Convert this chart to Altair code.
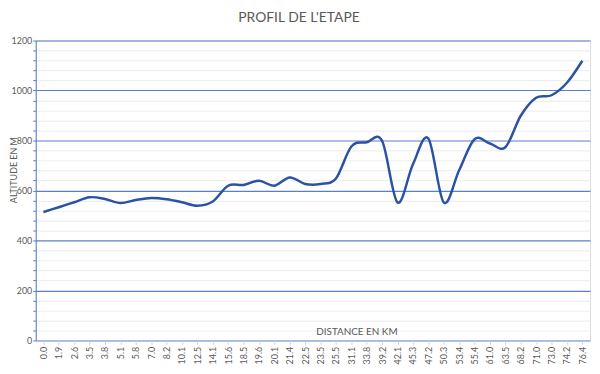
import altair as alt
import pandas as pd

distances = ["0.0", "1.9", "2.6", "3.5", "3.8", "5.1", "5.8", "7.0", "8.2", "10.1",
             "12.5", "14.1", "15.6", "18.5", "19.6", "20.1", "21.4", "22.5", "23.5", "25.5",
             "31.1", "33.8", "39.2", "42.1", "45.3", "47.2", "50.3", "53.4", "55.4", "61.0",
             "63.5", "68.2", "71.0", "73.0", "74.2", "76.4"]
altitudes = [514, 533, 553, 573, 566, 550, 562, 570, 565, 553,
             539, 556, 619, 622, 639, 619, 652, 626, 626, 648,
             776, 793, 798, 552, 705, 808, 552, 681, 805, 788,
             773, 899, 971, 981, 1031, 1119]
y_ticks = list(range(0, 1201, 40))
y_title = ["ALTITUDE EN M"]

df = pd.DataFrame({"dist": distances, "alt": altitudes})
df_title = pd.DataFrame({"t": y_title})

FONT = "Lato"
GRAY = "#595959"
BLUE = "#5680C8"

line = alt.Chart(df).mark_line(
    interpolate="cardinal", color="#2B52A3", strokeWidth=2.5
).encode(
    x=alt.X("dist:N", sort=None, scale=alt.Scale(padding=0.5),
            axis=alt.Axis(title="DISTANCE EN KM", labelAngle=270, labelAlign="right",
                          labelBaseline="middle", labelFontSize=9, labelColor=GRAY,
                          labelPadding=2, tickSize=4, tickColor="#c9d3e6",
                          domainColor="#c9d3e6", grid=False,
                          titleFontSize=10, titleFontWeight="normal", titleColor=GRAY,
                          titleX=324, titleY=-6, titleAlign="center",
                          titleBaseline="alphabetic", labelFont=FONT, titleFont=FONT)),
    y=alt.Y("alt:Q", scale=alt.Scale(domain=[0, 1200], nice=False),
            axis=alt.Axis(title=None, values=y_ticks, format="d",
                          labelExpr="datum.value % 200 === 0 ? datum.label : ''",
                          labelFontSize=9, labelColor=GRAY, labelPadding=1,
                          tickSize=3, tickColor=BLUE, domainColor=BLUE,
                          grid=True,
                          gridColor={"condition": {"test": "datum.value % 200 === 0", "value": BLUE},
                                     "value": "#efefef"},
                          gridWidth=1.2, labelFont=FONT)),
)

ytitle = alt.Chart(df_title).mark_text(
    angle=270, fontSize=9, color=GRAY, font=FONT, align="center", baseline="middle"
).encode(text="t:N", x=alt.value(-22), y=alt.value(131))

chart = alt.layer(line, ytitle).properties(
    width=560, height=303,
    title=alt.Title("PROFIL DE L'ETAPE", fontSize=14, fontWeight="normal",
                    color=GRAY, font=FONT, anchor="middle", dx=-14, offset=12),
    autosize=alt.AutoSizeParams(type="none"),
    padding={"left": 28, "top": 31, "right": 2, "bottom": 24},
).configure_view(stroke=None).configure(background="white")

chart.save("out.html", embed_options={"renderer": "svg", "actions": False})
